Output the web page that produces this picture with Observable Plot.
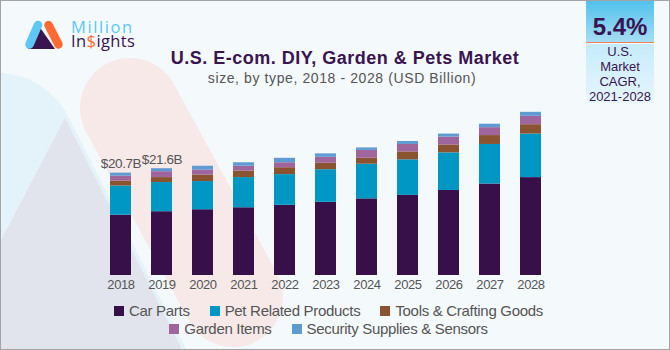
<!DOCTYPE html>
<html>
<head>
<meta charset="utf-8">
<script src="https://cdn.jsdelivr.net/npm/d3@7"></script>
<script src="https://cdn.jsdelivr.net/npm/@observablehq/plot@0.6"></script>
<style>
  body { margin: 0; background: #fff; }
  #card {
    position: relative; width: 670px; height: 350px; overflow: hidden;
    background: #f4f9fc; font-family: "Liberation Sans", Arial, sans-serif;
  }
  #card > * { position: absolute; }
  .frame { left: 0; top: 0; width: 668px; height: 348px; border: 1px solid #a3a3a3; pointer-events: none; }
  .brand {
    left: 71px; font-family: "Open Sans", "Liberation Sans", sans-serif;
    font-size: 16.5px; line-height: 13px; height: 13px; white-space: nowrap;
  }
  #title {
    left: 345px; top: 49px; transform: translateX(-50%); white-space: nowrap;
    font-size: 18px; line-height: 18px; font-weight: bold; color: #3a1450; letter-spacing: 0.5px;
  }
  #subtitle {
    left: 342px; top: 70.5px; transform: translateX(-50%); white-space: nowrap;
    font-size: 14px; line-height: 14px; color: #555; letter-spacing: 0.6px;
  }
  #cagr {
    left: 586px; top: 0; width: 68px; height: 103px; text-align: center; color: #3a1450;
  }
  #cagr .top {
    position: absolute; left: 0; top: 0; width: 68px; height: 42px;
    background: linear-gradient(#4fc1ec, #a6ddf3); border-bottom: 1.5px solid #ef7f55;
  }
  #cagr .bottom {
    position: absolute; left: 0; top: 43.5px; width: 68px; height: 59.5px;
    background: linear-gradient(#c6ebfa, #e6f6fd);
  }
  #cagr .value {
    position: absolute; left: 0; width: 68px; top: 14.7px;
    font-size: 24px; line-height: 24px; font-weight: bold;
  }
  #cagr .note {
    position: absolute; left: 0; width: 68px; top: 45.4px;
    font-size: 13px; line-height: 14.8px;
  }
  #legend {
    left: 98px; top: 301.8px; width: 461px; display: flex; flex-wrap: wrap;
    justify-content: center; column-gap: 20px;
    font-size: 15px; line-height: 18px; color: #555; letter-spacing: -0.3px;
  }
  #legend .item { display: flex; align-items: center; white-space: nowrap; }
  #legend .swatch { width: 10px; height: 10px; margin-right: 5px; }
  #chart { left: 0; top: 0; }
</style>
</head>
<body>
<div id="card">
  <!-- faded logo shapes in the background -->
  <svg width="670" height="350" style="left:0;top:0">
    <line x1="-3" y1="153" x2="260" y2="672" stroke="#e4f2fa" stroke-width="160" stroke-linecap="round"/>
    <polygon points="65,118 243,470 -119,470" fill="#e1e4ec"/>
    <line x1="130" y1="108" x2="233" y2="297" stroke="#f6e9e8" stroke-width="100" stroke-linecap="round"/>
  </svg>

  <!-- brand mark -->
  <svg width="70" height="60" style="left:0;top:0">
    <polygon points="39,26 28,49 55,49" fill="#3a1450"/>
    <line x1="29.5" y1="44.5" x2="38" y2="25" stroke="#5bc8f5" stroke-width="8.5" stroke-linecap="round"/>
    <line x1="48.5" y1="25" x2="58.5" y2="44.5" stroke="#ff6a33" stroke-width="8.5" stroke-linecap="round"/>
  </svg>
  <div class="brand" style="top:20.2px;color:#5bc8f5;letter-spacing:1.6px">Million</div>
  <div class="brand" style="top:34px;color:#3a1450;letter-spacing:0.4px">In<span style="color:#ff6a33">$</span>ights</div>

  <div id="title">U.S. E-com. DIY, Garden &amp; Pets Market</div>
  <div id="subtitle">size, by type, 2018 - 2028 (USD Billion)</div>

  <div id="cagr">
    <div class="top"></div>
    <div class="bottom"></div>
    <div class="value">5.4%</div>
    <div class="note">U.S.<br>Market<br>CAGR,<br>2021-2028</div>
  </div>

  <div id="chart"></div>
  <div id="legend"></div>
  <div class="frame"></div>
</div>

<script>
// Market size by product type, USD billion
const years = [2018, 2019, 2020, 2021, 2022, 2023, 2024, 2025, 2026, 2027, 2028];
const seriesNames = ["Car Parts", "Pet Related Products", "Tools & Crafting Goods", "Garden Items", "Security Supplies & Sensors"];
const seriesColors = ["#37104a", "#0097c4", "#8a5431", "#9f659d", "#5f9ad3"];

const carParts    = [12.2, 12.9, 13.3, 13.7, 14.2, 14.8, 15.5, 16.2, 17.2, 18.5, 19.8];
const petProducts = [5.9, 5.9, 5.7, 6.1, 6.2, 6.6, 7.0, 7.2, 7.6, 8.0, 8.8];
const toolsGoods  = [1.0, 1.0, 1.3, 1.3, 1.4, 1.3, 1.2, 1.6, 1.6, 1.8, 1.9];
const gardenItems = [1.0, 1.2, 1.0, 1.0, 1.0, 1.2, 1.6, 1.5, 1.6, 1.6, 1.7];
const security    = [0.6, 0.6, 0.8, 0.7, 0.9, 0.7, 0.5, 0.6, 0.6, 0.7, 0.8];

// years whose total is printed above the bar
const labelledYears = [2018, 2019];

const seriesValues = [carParts, petProducts, toolsGoods, gardenItems, security];

const rows = [];
years.forEach((year, i) => {
  seriesNames.forEach((name, s) => rows.push({year, series: name, value: seriesValues[s][i]}));
});

const totals = years.map((year, i) => ({
  year,
  total: seriesValues.reduce((sum, values) => sum + values[i], 0)
}));

const fmt = d3.format(".1f");

const chart = Plot.plot({
  width: 670,
  height: 350,
  marginLeft: 85,
  marginRight: 103,
  marginTop: 97,
  marginBottom: 75,
  style: {
    background: "transparent", fontFamily: '"Liberation Sans", Arial, sans-serif',
    fontSize: "13px", letterSpacing: "-0.4px", color: "#555", overflow: "visible"
  },
  x: {domain: years, padding: 0.48, label: null, tickSize: 0, tickPadding: 4, tickFormat: d => String(d)},
  y: {domain: [0, 36], axis: null},
  color: {domain: seriesNames, range: seriesColors},
  marks: [
    Plot.barY(rows, {x: "year", y: "value", fill: "series", order: seriesNames}),
    Plot.text(totals.filter(d => labelledYears.includes(d.year)), {
      x: "year", y: "total", text: d => `$${fmt(d.total)}B`,
      lineAnchor: "bottom", dy: -5, fill: "#555", fontSize: 13.5
    })
  ]
});
document.getElementById("chart").append(chart);

// legend swatches
const legend = d3.select("#legend");
seriesNames.forEach((name, i) => {
  const item = legend.append("div").attr("class", "item");
  item.append("div").attr("class", "swatch").style("background", seriesColors[i]);
  item.append("span").text(name);
});
</script>
</body>
</html>
